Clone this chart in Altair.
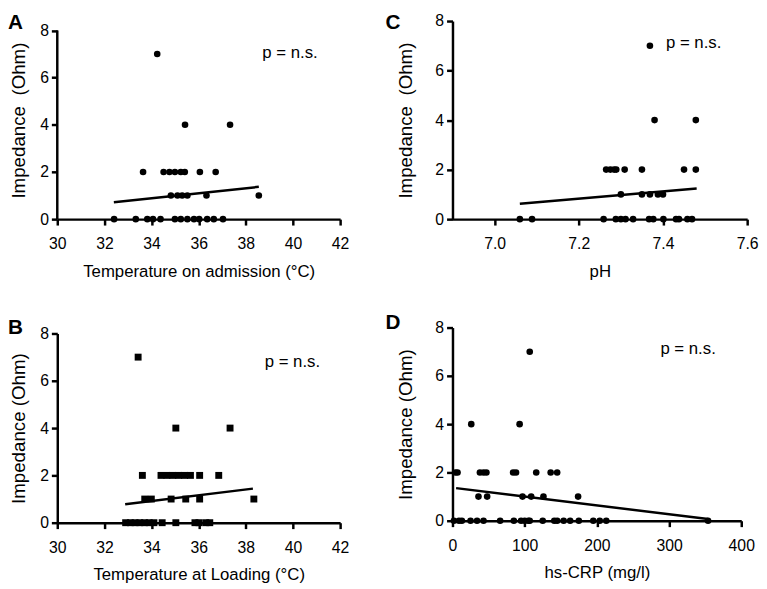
import altair as alt
import pandas as pd

FONT = "Liberation Sans"

# ---------------- Panel A: Temperature on admission ----------------
a_temp = [34.24,
          35.42, 37.33,
          33.64, 34.51, 34.76, 34.99, 35.24, 35.41, 36.05, 36.72,
          34.82, 35.10, 35.30, 35.52, 36.33, 38.55,
          32.41, 33.33, 33.82, 34.06, 34.38, 34.99, 35.24, 35.52, 35.80, 36.02, 36.36, 36.64, 37.03]
a_imp = [7,
         4, 4,
         2, 2, 2, 2, 2, 2, 2, 2,
         1, 1, 1, 1, 1, 1,
         0, 0, 0, 0, 0, 0, 0, 0, 0, 0, 0, 0, 0]
a_line_x = [32.4, 38.55]
a_line_y = [0.72, 1.37]

# ---------------- Panel B: Temperature at loading ----------------
b_temp = [33.43,
          35.03, 37.33,
          33.61, 34.40, 34.65, 34.90, 35.15, 35.40, 35.65, 36.04, 36.85,
          33.71, 33.99, 34.83, 35.45, 36.04, 38.34,
          32.90, 33.10, 33.30, 33.50, 33.70, 33.90, 34.10, 34.45, 35.03, 35.84, 36.01, 36.30, 36.47]
b_imp = [7,
         4, 4,
         2, 2, 2, 2, 2, 2, 2, 2, 2,
         1, 1, 1, 1, 1, 1,
         0, 0, 0, 0, 0, 0, 0, 0, 0, 0, 0, 0, 0]
b_line_x = [32.88, 38.3]
b_line_y = [0.78, 1.44]

# ---------------- Panel C: pH ----------------
c_ph = [7.369,
        7.380, 7.478,
        7.265, 7.275, 7.284, 7.289, 7.309, 7.350, 7.450, 7.478,
        7.300, 7.350, 7.369, 7.388, 7.400,
        7.060, 7.089, 7.259, 7.288, 7.300, 7.311, 7.329, 7.367, 7.377, 7.401, 7.431, 7.438, 7.458, 7.469]
c_imp = [7,
         4, 4,
         2, 2, 2, 2, 2, 2, 2, 2,
         1, 1, 1, 1, 1,
         0, 0, 0, 0, 0, 0, 0, 0, 0, 0, 0, 0, 0, 0]
c_line_x = [7.06, 7.48]
c_line_y = [0.62, 1.24]

# ---------------- Panel D: hs-CRP ----------------
d_crp = [107,
         26, 93,
         4, 7, 38, 43, 47, 84, 88, 116, 136, 145,
         36, 48, 97, 109, 126, 174,
         2, 9, 13, 25, 34, 43, 66, 85, 95, 100, 105, 107, 125, 141, 145, 154, 163, 175, 195, 204, 213, 354]
d_imp = [7,
         4, 4,
         2, 2, 2, 2, 2, 2, 2, 2, 2, 2,
         1, 1, 1, 1, 1, 1,
         0, 0, 0, 0, 0, 0, 0, 0, 0, 0, 0, 0, 0, 0, 0, 0, 0, 0, 0, 0, 0, 0]
d_line_x = [5, 354]
d_line_y = [1.35, 0.07]

# annotation positions (data coordinates)
p_text = "p = n.s."
p_pos = {"A": (38.7, 7.05), "B": (38.8, 6.8), "C": (7.407, 7.1), "D": (288, 7.1)}

Y_TICKS = [0, 2, 4, 6, 8]
Y_MAX = 8


def panel(letter, xs, ys, lx, ly, xdomain, xticks, xfmt, xtitle, ytitle,
          shape, msize, w, h, ytop, ytitle_pad, letter_dx, letter_dy):
    """ytop: upper end of the y scale (>= 8 leaves empty room above the axis)."""
    pts = pd.DataFrame({"x": xs, "y": ys})
    ln = pd.DataFrame({"x": lx, "y": ly})
    tx = pd.DataFrame({"x": [p_pos[letter][0]], "y": [p_pos[letter][1]], "t": [p_text]})
    lt = pd.DataFrame({"t": [letter]})
    ax = pd.DataFrame({"x": [xdomain[0]], "y": [0], "y2": [Y_MAX]})

    xscale = alt.Scale(domain=xdomain, nice=False, zero=False)
    yscale = alt.Scale(domain=[0, ytop], nice=False)
    xaxis = alt.Axis(values=xticks, format=xfmt, title=xtitle)
    yaxis = alt.Axis(values=Y_TICKS, title=ytitle, titlePadding=ytitle_pad,
                     domain=(ytop == Y_MAX))

    points = alt.Chart(pts).mark_point(
        shape=shape, filled=True, size=msize, color="black", opacity=1
    ).encode(
        x=alt.X("x:Q", scale=xscale, axis=xaxis),
        y=alt.Y("y:Q", scale=yscale, axis=yaxis),
    )
    line = alt.Chart(ln).mark_line(color="black", strokeWidth=2.5).encode(
        x="x:Q", y="y:Q"
    )
    text = alt.Chart(tx).mark_text(
        align="left", baseline="middle", font=FONT, fontSize=17, color="black"
    ).encode(x="x:Q", y="y:Q", text="t:N")
    label = alt.Chart(lt).mark_text(
        align="left", baseline="middle", font=FONT, fontSize=21, fontWeight="bold",
        color="black"
    ).encode(x=alt.value(letter_dx), y=alt.value(letter_dy), text="t:N")

    layers = [points, line, text, label]
    if ytop != Y_MAX:
        # y-axis line drawn only from 0 to 8, as in the original figure
        yline = alt.Chart(ax).mark_rule(color="black", strokeWidth=2.5).encode(
            x="x:Q", y="y:Q", y2="y2:Q"
        )
        layers.append(yline)

    return alt.layer(*layers).properties(width=w, height=h)


A = panel("A", a_temp, a_imp, a_line_x, a_line_y, [30, 42], list(range(30, 43, 2)), "d",
          "Temperature on admission (°C)", "Impedance\u00a0 (Ohm)", "circle", 45, 287, 201,
          8.40, 11, -50, 2)
B = panel("B", b_temp, b_imp, b_line_x, b_line_y, [30, 42], list(range(30, 43, 2)), "d",
          "Temperature at Loading (°C)", "Impedance (Ohm)", "square", 49, 287, 192,
          8, 11, -50, -5)
C = panel("C", c_ph, c_imp, c_line_x, c_line_y, [6.9, 7.6], [7.0, 7.2, 7.4, 7.6], ".1f",
          "pH", "Impedance\u00a0 (Ohm)", "circle", 45, 299, 201,
          8, 20, -68, 2)
D = panel("D", d_crp, d_imp, d_line_x, d_line_y, [0, 400], [0, 100, 200, 300, 400], "d",
          "hs-CRP (mg/l)", "Impedance (Ohm)", "circle", 45, 293, 196,
          8, 20, -68, -5)

left = alt.vconcat(A, B, spacing=39)
right = alt.vconcat(C, D, spacing=33)

chart = alt.concat(left, right, columns=2, spacing=37).properties(
    padding=0
).configure_view(
    stroke=None
).configure_axis(
    grid=False, labelFlush=False, labelOverlap=False,
    domainColor="black", domainWidth=2.5,
    tickColor="black", tickWidth=2.5, tickSize=6,
    labelFont=FONT, labelFontSize=16, labelColor="black", labelPadding=3,
    titleFont=FONT, titleFontSize=17, titleFontWeight="normal", titleColor="black",
).configure_axisX(labelPadding=11, titlePadding=12).configure_axisY(titleFontSize=19)

chart.save("out.html", embed_options={"renderer": "svg", "actions": False})
